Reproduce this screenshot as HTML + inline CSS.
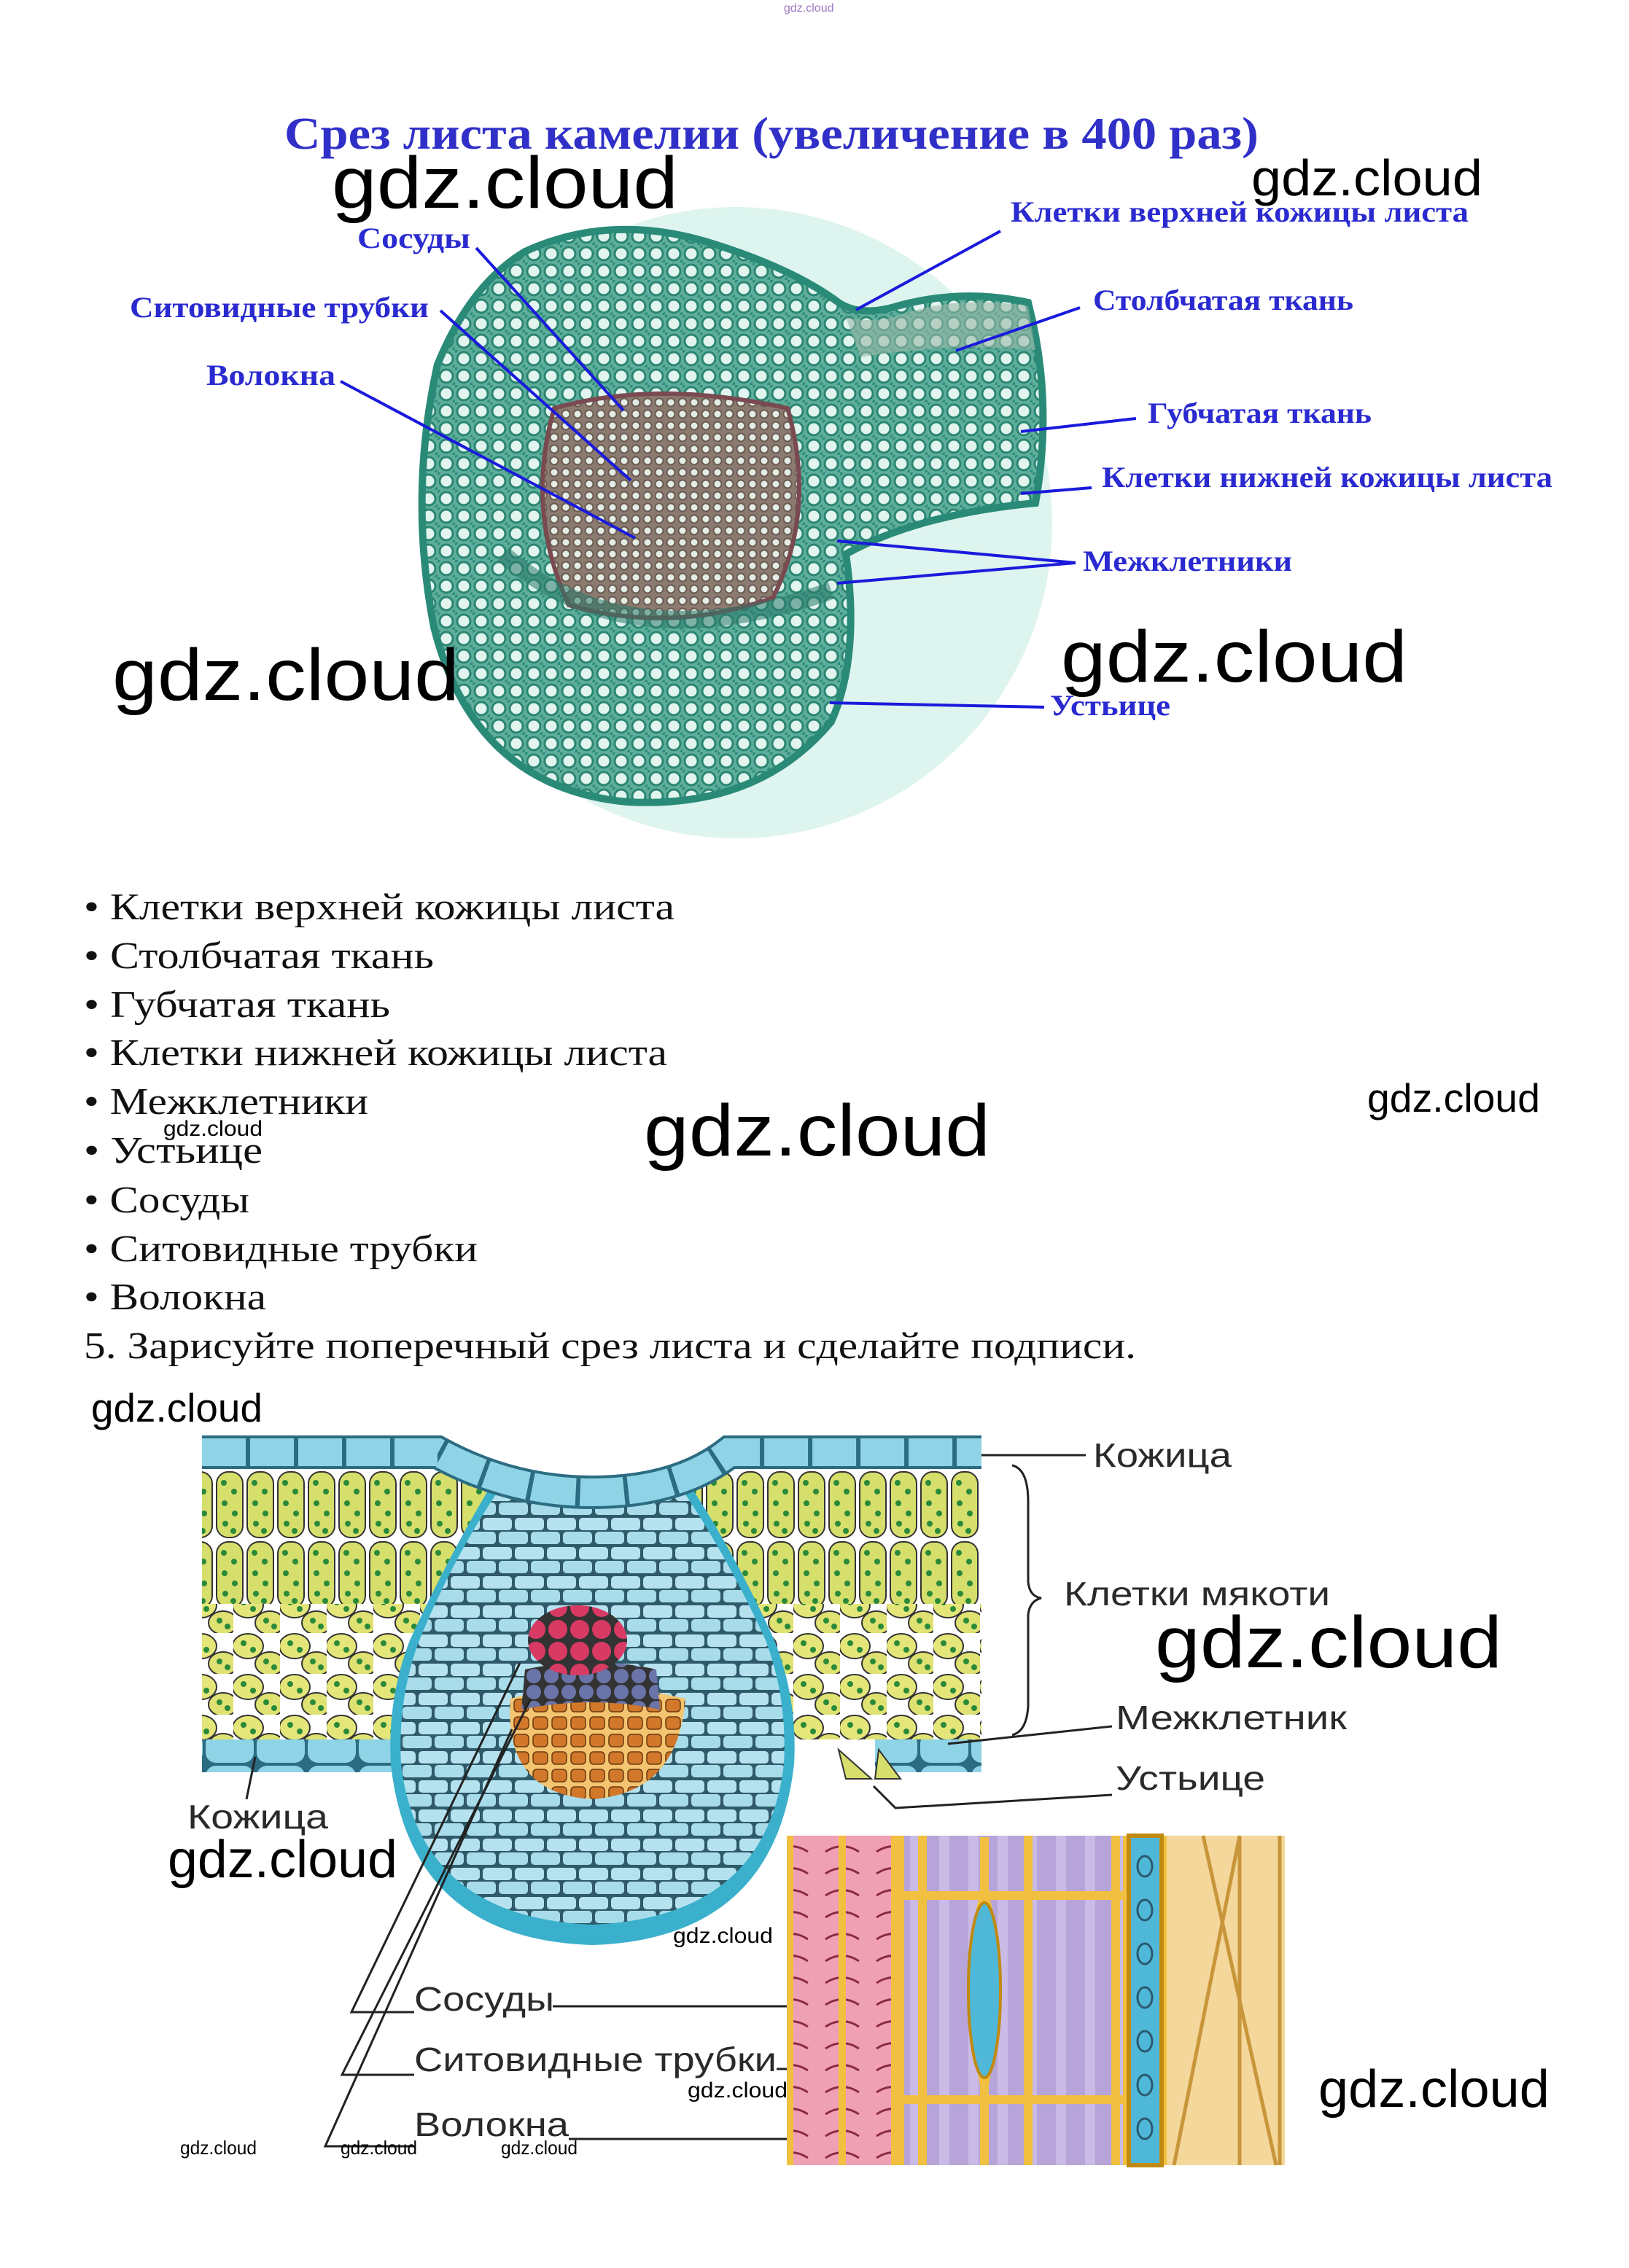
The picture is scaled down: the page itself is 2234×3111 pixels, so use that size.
<!DOCTYPE html>
<html><head><meta charset="utf-8"><style>
html,body{margin:0;padding:0;background:#fff;}
svg{display:block;}
.wm{font-family:"Liberation Sans",sans-serif;fill:#000;}
.lb{font-family:"Liberation Serif","Noto Serif CJK SC",serif;font-weight:bold;fill:#2a2ad0;font-size:40px;}
.bl{font-family:"Liberation Serif","Noto Serif CJK SC",serif;fill:#111;font-size:52px;}
.bt{font-family:"Liberation Sans","Noto Sans CJK SC",sans-serif;fill:#2a2a2a;font-size:46px;}
</style></head><body>
<svg width="2234" height="3111" viewBox="0 0 2234 3111" xmlns="http://www.w3.org/2000/svg">
<defs>
<pattern id="teal" width="24" height="24" patternUnits="userSpaceOnUse">
<rect width="24" height="24" fill="#5fae9c"/>
<circle cx="12" cy="12" r="9" fill="#e2f4ee" stroke="#2a8672" stroke-width="3"/>
<circle cx="0" cy="0" r="4" fill="#2f8f7a"/><circle cx="24" cy="24" r="4" fill="#2f8f7a"/>
</pattern>
<pattern id="tealsm" width="16" height="16" patternUnits="userSpaceOnUse">
<rect width="16" height="16" fill="#8a7a70"/>
<circle cx="8" cy="8" r="5.5" fill="#e4ece6" stroke="#6a5a50" stroke-width="2"/>
</pattern>
<pattern id="pal" width="42" height="96" patternUnits="userSpaceOnUse">
<rect width="42" height="96" fill="#fff"/>
<rect x="3" y="3" width="36" height="90" rx="16" fill="#d7df6c" stroke="#333" stroke-width="2"/>
<circle cx="13" cy="18" r="4" fill="#2a8a3a"/><circle cx="27" cy="30" r="4" fill="#2a8a3a"/>
<circle cx="14" cy="46" r="4" fill="#2a8a3a"/><circle cx="28" cy="60" r="4" fill="#2a8a3a"/>
<circle cx="15" cy="74" r="4" fill="#2a8a3a"/><circle cx="26" cy="84" r="4" fill="#2a8a3a"/>
</pattern>
<pattern id="spo" width="64" height="56" patternUnits="userSpaceOnUse">
<rect width="64" height="56" fill="#fff"/>
<ellipse cx="20" cy="18" rx="21" ry="17" fill="#e4e67a" stroke="#333" stroke-width="2"/>
<ellipse cx="50" cy="42" rx="20" ry="16" fill="#dfe272" stroke="#333" stroke-width="2"/>
<circle cx="14" cy="14" r="4" fill="#2a8a3a"/><circle cx="27" cy="23" r="4" fill="#2a8a3a"/>
<circle cx="45" cy="39" r="4" fill="#2a8a3a"/><circle cx="56" cy="47" r="4" fill="#2a8a3a"/>
</pattern>
<pattern id="vein" width="44" height="40" patternUnits="userSpaceOnUse">
<rect width="44" height="40" fill="#2f5a6a"/>
<rect x="2" y="2" width="40" height="17" rx="5" fill="#b5e2ee"/>
<rect x="-20" y="21" width="40" height="17" rx="5" fill="#a8dcea"/>
<rect x="24" y="21" width="40" height="17" rx="5" fill="#a8dcea"/>
</pattern>
<pattern id="epi" width="70" height="44" patternUnits="userSpaceOnUse">
<rect width="70" height="44" fill="#2c6c82"/>
<rect x="2" y="2" width="66" height="40" rx="14" fill="#8fd4e6"/>
</pattern>
<pattern id="red" width="30" height="30" patternUnits="userSpaceOnUse">
<rect width="30" height="30" fill="#333"/><circle cx="15" cy="15" r="13" fill="#d83a64"/>
</pattern>
<pattern id="blu" width="24" height="22" patternUnits="userSpaceOnUse">
<rect width="24" height="22" fill="#333"/><circle cx="12" cy="11" r="10" fill="#6a74a8"/>
</pattern>
<pattern id="org" width="26" height="24" patternUnits="userSpaceOnUse">
<rect width="26" height="24" fill="#f4c470"/><rect x="3" y="3" width="20" height="17" rx="5" fill="#d2782a" stroke="#6a3a10" stroke-width="1.5"/>
</pattern>
<pattern id="spiral" width="70" height="30" patternUnits="userSpaceOnUse">
<rect width="70" height="30" fill="#f0a0b4"/>
<path d="M12 20 Q35 5 58 20" stroke="#8a2a40" stroke-width="3" fill="none"/>
</pattern>
<pattern id="purp" width="40" height="40" patternUnits="userSpaceOnUse">
<rect width="40" height="40" fill="#b7a4d8"/><rect x="8" width="14" height="40" fill="#c9bae6"/>
</pattern>
<clipPath id="vclip"><path d="M680 2050 Q812 2030 940 2050 Q1000 2140 1050 2250 Q1080 2330 1075 2420 Q1050 2630 812 2640 Q575 2630 550 2420 Q545 2330 575 2250 Q620 2140 680 2050 Z"/></clipPath>
</defs>

<text x="1075" y="16" font-size="16" class="wm" style="fill:#9a7ac0">gdz.cloud</text>

<!-- Title -->
<text x="390" y="204" class="lb" style="font-size:62px;fill:#3030c8" textLength="1336" lengthAdjust="spacingAndGlyphs">Срез листа камелии (увеличение в 400 раз)</text>

<!-- top diagram -->
<circle cx="1010" cy="717" r="433" fill="#def4ee"/>
<path d="M720 345 Q840 290 980 335 Q1090 370 1150 415 Q1180 435 1230 420 Q1320 395 1410 415 Q1445 550 1420 690 Q1260 705 1160 760 Q1180 900 1140 990 Q1040 1110 860 1100 Q650 1080 595 860 Q560 680 600 500 Q645 390 720 345 Z" fill="url(#teal)" stroke="#2a8a78" stroke-width="10"/>
<path d="M1160 435 Q1200 445 1240 430 Q1320 405 1410 420 L1420 480 Q1300 470 1180 490 Z" fill="#9ab8a8" opacity="0.6"/>
<path d="M760 560 Q900 520 1080 560 Q1120 700 1060 820 Q920 870 780 830 Q720 700 760 560 Z" fill="url(#tealsm)" stroke="#7a4a50" stroke-width="6"/>
<path d="M690 760 Q860 910 1140 810" stroke="#2a7a6a" stroke-width="24" fill="none" opacity="0.55"/>

<g stroke="#1a1adc" stroke-width="4" fill="none">
<line x1="653" y1="340" x2="855" y2="563"/>
<line x1="604" y1="426" x2="865" y2="659"/>
<line x1="467" y1="523" x2="871" y2="738"/>
<line x1="1372" y1="317" x2="1174" y2="425"/>
<line x1="1481" y1="422" x2="1311" y2="481"/>
<line x1="1558" y1="574" x2="1400" y2="592"/>
<line x1="1497" y1="669" x2="1400" y2="677"/>
<line x1="1475" y1="772" x2="1148" y2="742"/>
<line x1="1475" y1="772" x2="1148" y2="800"/>
<line x1="1432" y1="970" x2="1138" y2="964"/>
</g>
<text x="490" y="340" class="lb" textLength="155" lengthAdjust="spacingAndGlyphs">Сосуды</text>
<text x="178" y="435" class="lb" textLength="410" lengthAdjust="spacingAndGlyphs">Ситовидные трубки</text>
<text x="283" y="528" class="lb" textLength="177" lengthAdjust="spacingAndGlyphs">Волокна</text>
<text x="1386" y="304" class="lb" textLength="628" lengthAdjust="spacingAndGlyphs">Клетки верхней кожицы листа</text>
<text x="1499" y="425" class="lb" textLength="357" lengthAdjust="spacingAndGlyphs">Столбчатая ткань</text>
<text x="1574" y="580" class="lb" textLength="307" lengthAdjust="spacingAndGlyphs">Губчатая ткань</text>
<text x="1511" y="668" class="lb" textLength="618" lengthAdjust="spacingAndGlyphs">Клетки нижней кожицы листа</text>
<text x="1485" y="783" class="lb" textLength="287" lengthAdjust="spacingAndGlyphs">Межклетники</text>
<text x="1440" y="981" class="lb" textLength="165" lengthAdjust="spacingAndGlyphs">Устьице</text>

<!-- bullet list -->
<text x="115" y="1261" class="bl" textLength="810" lengthAdjust="spacingAndGlyphs">• Клетки верхней кожицы листа</text>
<text x="115" y="1328" class="bl" textLength="480" lengthAdjust="spacingAndGlyphs">• Столбчатая ткань</text>
<text x="115" y="1395" class="bl" textLength="420" lengthAdjust="spacingAndGlyphs">• Губчатая ткань</text>
<text x="115" y="1461" class="bl" textLength="800" lengthAdjust="spacingAndGlyphs">• Клетки нижней кожицы листа</text>
<text x="115" y="1528" class="bl" textLength="390" lengthAdjust="spacingAndGlyphs">• Межклетники</text>
<text x="115" y="1595" class="bl" textLength="245" lengthAdjust="spacingAndGlyphs">• Устьице</text>
<text x="115" y="1663" class="bl" textLength="227" lengthAdjust="spacingAndGlyphs">• Сосуды</text>
<text x="115" y="1730" class="bl" textLength="540" lengthAdjust="spacingAndGlyphs">• Ситовидные трубки</text>
<text x="115" y="1796" class="bl" textLength="250" lengthAdjust="spacingAndGlyphs">• Волокна</text>
<text x="115" y="1863" class="bl" textLength="1443" lengthAdjust="spacingAndGlyphs">5. Зарисуйте поперечный срез листа и сделайте подписи.</text>

<!-- bottom leaf diagram -->
<rect x="277" y="2013" width="1069" height="373" fill="url(#pal)"/>
<rect x="277" y="2200" width="1069" height="186" fill="url(#spo)"/>
<rect x="277" y="2386" width="300" height="45" fill="url(#epi)"/>
<rect x="1200" y="2386" width="146" height="45" fill="url(#epi)"/>
<path d="M1150 2400 L1195 2440 L1160 2440 Z M1205 2400 L1235 2440 L1200 2440 Z" fill="#d7df6c" stroke="#333" stroke-width="2"/>
<!-- vein -->
<path d="M672 2040 Q812 2018 948 2040 Q1010 2135 1062 2250 Q1094 2330 1089 2420 Q1062 2660 812 2668 Q562 2660 536 2420 Q531 2330 562 2250 Q615 2135 672 2040 Z" fill="#3ab0cc"/>
<g clip-path="url(#vclip)"><rect x="540" y="2030" width="560" height="640" fill="url(#vein)"/></g>
<path d="M700 2330 Q812 2300 940 2330 Q930 2460 812 2468 Q690 2460 700 2330 Z" fill="url(#org)"/>
<path d="M720 2290 Q812 2270 900 2290 L905 2345 Q812 2325 715 2345 Z" fill="url(#blu)"/>
<ellipse cx="792" cy="2250" rx="68" ry="48" fill="url(#red)"/>
<!-- upper epidermis with dip -->
<path d="M277 1965 L1346 1965 L1346 1990 L1000 1990 Q930 2045 812 2045 Q700 2045 600 1990 L277 1990 Z" fill="#fff"/>
<path d="M277 1992 L600 1992 Q700 2047 812 2047 Q930 2047 1000 1992 L1346 1992" stroke="#2c6c82" stroke-width="46" fill="none"/>
<path d="M277 1992 L600 1992 Q700 2047 812 2047 Q930 2047 1000 1992 L1346 1992" stroke="#8fd4e6" stroke-width="38" fill="none" stroke-dasharray="60 6"/>

<g stroke="#222" stroke-width="3" fill="none">
<line x1="1346" y1="1996" x2="1489" y2="1996"/>
<path d="M1388 2010 Q1410 2015 1410 2060 L1410 2170 Q1412 2190 1428 2192 Q1412 2196 1410 2215 L1410 2340 Q1408 2375 1388 2380"/>
<line x1="1300" y1="2392" x2="1525" y2="2368"/>
<polyline points="1198,2450 1228,2480 1525,2462"/>
<line x1="350" y1="2410" x2="338" y2="2468"/>
<polyline points="713,2281 482,2760 568,2760"/>
<polyline points="728,2330 469,2846 568,2846"/>
<polyline points="702,2372 446,2944 568,2944"/>
<line x1="758" y1="2752" x2="1139" y2="2752"/>
<line x1="1065" y1="2838" x2="1307" y2="2838"/>
<line x1="780" y1="2934" x2="1648" y2="2934"/>
</g>
<text x="1499" y="2012" class="bt" textLength="190" lengthAdjust="spacingAndGlyphs">Кожица</text>
<text x="1459" y="2202" class="bt" textLength="365" lengthAdjust="spacingAndGlyphs">Клетки мякоти</text>
<text x="1530" y="2372" class="bt" textLength="317" lengthAdjust="spacingAndGlyphs">Межклетник</text>
<text x="1530" y="2455" class="bt" textLength="205" lengthAdjust="spacingAndGlyphs">Устьице</text>
<text x="257" y="2508" class="bt" textLength="193" lengthAdjust="spacingAndGlyphs">Кожица</text>
<text x="568" y="2758" class="bt" textLength="192" lengthAdjust="spacingAndGlyphs">Сосуды</text>
<text x="568" y="2841" class="bt" textLength="497" lengthAdjust="spacingAndGlyphs">Ситовидные трубки</text>
<text x="568" y="2930" class="bt" textLength="212" lengthAdjust="spacingAndGlyphs">Волокна</text>

<!-- micrograph -->
<rect x="1079" y="2518" width="683" height="452" fill="#f2c040"/>
<rect x="1088" y="2518" width="62" height="452" fill="url(#spiral)"/>
<rect x="1160" y="2518" width="62" height="452" fill="url(#spiral)"/>
<rect x="1240" y="2518" width="300" height="452" fill="url(#purp)"/>
<g stroke="#f2c040" stroke-width="12" fill="none">
<line x1="1265" y1="2518" x2="1265" y2="2970"/>
<line x1="1410" y1="2518" x2="1410" y2="2970"/>
<line x1="1530" y1="2518" x2="1530" y2="2970"/>
<line x1="1240" y1="2600" x2="1540" y2="2600"/>
<line x1="1240" y1="2880" x2="1540" y2="2880"/>
<path d="M1350 2520 L1350 2600 Q1320 2700 1350 2860 L1350 2970"/>
<path d="M1350 2600 Q1380 2700 1350 2860"/>
</g>
<ellipse cx="1350" cy="2730" rx="22" ry="120" fill="#4fb8d8" stroke="#c08a10" stroke-width="4"/>
<rect x="1548" y="2518" width="45" height="452" fill="#4fb8d8" stroke="#c08a10" stroke-width="6"/>
<g fill="none" stroke="#2a5a70" stroke-width="3">
<ellipse cx="1570" cy="2560" rx="10" ry="14"/><ellipse cx="1570" cy="2620" rx="10" ry="14"/><ellipse cx="1570" cy="2680" rx="10" ry="14"/>
<ellipse cx="1570" cy="2740" rx="10" ry="14"/><ellipse cx="1570" cy="2800" rx="10" ry="14"/><ellipse cx="1570" cy="2860" rx="10" ry="14"/><ellipse cx="1570" cy="2920" rx="10" ry="14"/>
</g>
<rect x="1600" y="2518" width="162" height="452" fill="#f4d79a"/>
<g stroke="#c8963a" stroke-width="5" fill="none">
<line x1="1610" y1="2970" x2="1700" y2="2518"/><line x1="1650" y1="2518" x2="1750" y2="2970"/>
<line x1="1700" y1="2518" x2="1700" y2="2970"/><line x1="1755" y1="2518" x2="1755" y2="2970"/>
</g>

<!-- watermarks -->
<text x="455" y="285" font-size="100" class="wm" textLength="475" lengthAdjust="spacingAndGlyphs">gdz.cloud</text>
<text x="1716" y="268" font-size="70" class="wm" textLength="317" lengthAdjust="spacingAndGlyphs">gdz.cloud</text>
<text x="154" y="960" font-size="100" class="wm" textLength="476" lengthAdjust="spacingAndGlyphs">gdz.cloud</text>
<text x="1455" y="935" font-size="100" class="wm" textLength="475" lengthAdjust="spacingAndGlyphs">gdz.cloud</text>
<text x="1875" y="1525" font-size="55" class="wm" textLength="237" lengthAdjust="spacingAndGlyphs">gdz.cloud</text>
<text x="224" y="1558" font-size="30" class="wm" textLength="136" lengthAdjust="spacingAndGlyphs">gdz.cloud</text>
<text x="883" y="1585" font-size="100" class="wm" textLength="475" lengthAdjust="spacingAndGlyphs">gdz.cloud</text>
<text x="125" y="1950" font-size="55" class="wm" textLength="235" lengthAdjust="spacingAndGlyphs">gdz.cloud</text>
<text x="1584" y="2287" font-size="100" class="wm" textLength="476" lengthAdjust="spacingAndGlyphs">gdz.cloud</text>
<text x="230" y="2575" font-size="72" class="wm" textLength="315" lengthAdjust="spacingAndGlyphs">gdz.cloud</text>
<text x="923" y="2665" font-size="30" class="wm" textLength="137" lengthAdjust="spacingAndGlyphs">gdz.cloud</text>
<text x="943" y="2877" font-size="30" class="wm" textLength="137" lengthAdjust="spacingAndGlyphs">gdz.cloud</text>
<text x="1808" y="2890" font-size="72" class="wm" textLength="317" lengthAdjust="spacingAndGlyphs">gdz.cloud</text>
<text x="247" y="2955" font-size="26" class="wm" textLength="105" lengthAdjust="spacingAndGlyphs">gdz.cloud</text>
<text x="467" y="2955" font-size="26" class="wm" textLength="105" lengthAdjust="spacingAndGlyphs">gdz.cloud</text>
<text x="687" y="2955" font-size="26" class="wm" textLength="105" lengthAdjust="spacingAndGlyphs">gdz.cloud</text>
</svg>
</body></html>
